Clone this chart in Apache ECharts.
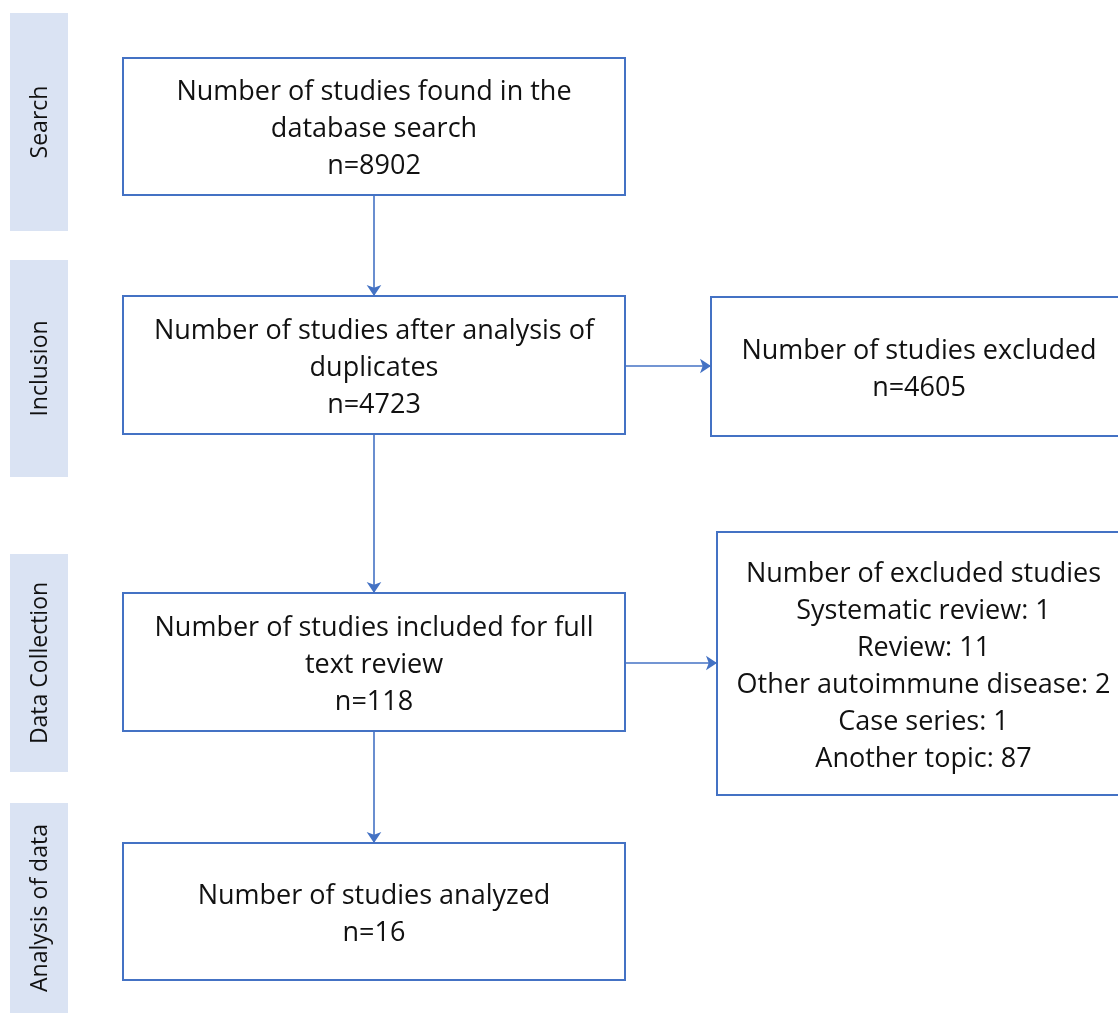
<!DOCTYPE html>
<html>
<head>
<meta charset="utf-8">
<script src="https://cdn.jsdelivr.net/npm/echarts@6/dist/echarts.min.js"></script>
<style>
  html, body { margin: 0; padding: 0; background: #fff; }
  #chart { width: 1118px; height: 1014px; }
</style>
</head>
<body>
<div id="chart"></div>
<script>
// stage labels (left bands)
var stages = ['Search', 'Inclusion', 'Data Collection', 'Analysis of data'];

// box contents
var boxTitles = [
  'Number of studies found in the\ndatabase search',
  'Number of studies after analysis of\nduplicates',
  'Number of studies excluded',
  'Number of studies included for full\ntext review',
  'Number of excluded studies',
  'Number of studies analyzed'
];
var boxCounts = [8902, 4723, 4605, 118, null, 16];
var exclusionReasons = ['Systematic review', 'Review', 'Other autoimmune disease', 'Case series', 'Another topic'];
var exclusionCounts = [1, 11, 2, 1, 87];

// layout (pixel-like units on a hidden 1118 x 1014 grid)
var stageRects = [[10, 13, 68, 231], [10, 260, 68, 477], [10, 554, 68, 772], [10, 803, 68, 1013]];
var boxRects = [
  [123, 58, 625, 195],
  [123, 296, 625, 434],
  [711, 297, 1127, 436],
  [123, 593, 625, 731],
  [717, 532, 1130, 795],
  [123, 843, 625, 980]
];
var arrows = [
  [[374, 195], [374, 296]],
  [[374, 434], [374, 593]],
  [[374, 731], [374, 843]],
  [[625, 366], [711, 366]],
  [[625, 663], [717, 663]]
];

function boxText(i) {
  var t = boxTitles[i];
  if (boxCounts[i] != null) t += '\nn=' + boxCounts[i];
  if (i === 4) {
    t += '\n' + exclusionReasons.map(function (r, k) { return r + ': ' + exclusionCounts[k]; }).join('\n');
  }
  return t;
}

var BLUE = '#4472c4';
var FONT = '"Open Sans", sans-serif';

var chart = echarts.init(document.getElementById('chart'));

var option = {
  backgroundColor: '#fff',
  animation: false,
  grid: { left: 0, right: 0, top: 0, bottom: 0 },
  xAxis: { type: 'value', min: 0, max: 1118, show: false },
  yAxis: { type: 'value', min: 0, max: 1014, inverse: true, show: false },
  series: [
    {
      type: 'custom',
      name: 'stages',
      clip: false,
      data: stageRects.map(function (r, i) { return r.concat([i]); }),
      renderItem: function (params, api) {
        var p1 = api.coord([api.value(0), api.value(1)]);
        var p2 = api.coord([api.value(2), api.value(3)]);
        var i = api.value(4);
        return {
          type: 'group',
          children: [
            {
              type: 'rect',
              shape: { x: p1[0], y: p1[1], width: p2[0] - p1[0], height: p2[1] - p1[1] },
              style: { fill: '#dae3f3' }
            },
            {
              type: 'text',
              x: (p1[0] + p2[0]) / 2 + 1,
              y: (p1[1] + p2[1]) / 2,
              rotation: Math.PI / 2,
              style: {
                text: stages[i],
                align: 'center',
                verticalAlign: 'middle',
                fontFamily: FONT,
                fontSize: 23,
                fill: '#111'
              }
            }
          ]
        };
      }
    },
    {
      type: 'custom',
      name: 'boxes',
      clip: true,
      data: boxRects.map(function (r, i) { return r.concat([i]); }),
      renderItem: function (params, api) {
        var p1 = api.coord([api.value(0), api.value(1)]);
        var p2 = api.coord([api.value(2), api.value(3)]);
        var i = api.value(4);
        return {
          type: 'group',
          children: [
            {
              type: 'rect',
              shape: { x: p1[0], y: p1[1], width: p2[0] - p1[0], height: p2[1] - p1[1] },
              style: { fill: '#fff', stroke: BLUE, lineWidth: 2 }
            },
            {
              type: 'text',
              x: (p1[0] + p2[0]) / 2,
              y: (p1[1] + p2[1]) / 2 + 3,
              style: {
                text: boxText(i),
                align: 'center',
                verticalAlign: 'middle',
                fontFamily: FONT,
                fontSize: 27,
                lineHeight: 37,
                fill: '#111'
              }
            }
          ]
        };
      }
    },
    {
      type: 'lines',
      coordinateSystem: 'cartesian2d',
      symbol: ['none', 'arrow'],
      symbolSize: 11,
      lineStyle: { color: BLUE, width: 1.6, opacity: 1 },
      data: arrows.map(function (a) { return { coords: a }; })
    }
  ]
};

chart.setOption(option);
</script>
</body>
</html>
